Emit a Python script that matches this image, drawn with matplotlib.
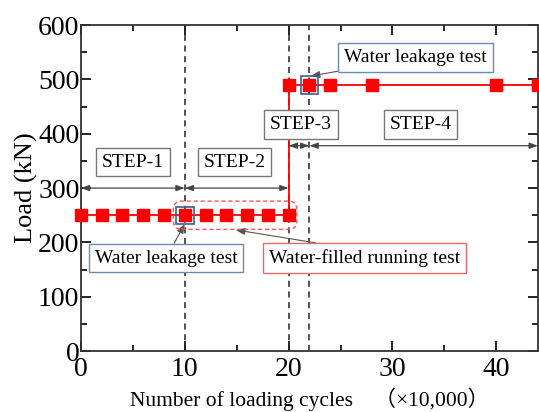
import matplotlib
matplotlib.use('Agg')
import matplotlib.pyplot as plt
from matplotlib.patches import FancyBboxPatch, Rectangle

plt.rcParams['font.family'] = ['Liberation Serif', 'Noto Sans CJK JP']

# Datos de carga
ciclos_1 = [0, 2, 4, 6, 8, 10, 12, 14, 16, 18, 20]
carga_1 = [250, 250, 250, 250, 250, 250, 250, 250, 250, 250, 250]
ciclos_2 = [20, 22, 24, 28, 40, 44]
carga_2 = [490, 490, 490, 490, 490, 490]
limites = [10, 20, 22]

fig = plt.figure(figsize=(5.39, 4.12), dpi=100)
ax = fig.add_axes([0.150, 0.148, 0.848, 0.791])

ax.plot(ciclos_1 + ciclos_2, carga_1 + carga_2, color='red', lw=1.3,
        marker='s', ms=9, mec='red', mfc='red', zorder=3, clip_on=False)

for xv in limites:
    ax.axvline(xv, color='#222222', ls=(0, (4, 3)), lw=1.1, zorder=2)

ax.set_xlim(0, 44)
ax.set_ylim(0, 600)
ax.set_xticks([0, 10, 20, 30, 40])
ax.set_xticks([5, 15, 25, 35], minor=True)
ax.set_yticks(range(0, 601, 100))
ax.set_yticks(range(50, 600, 100), minor=True)
ax.tick_params(which='both', direction='in', top=True, right=True, width=1.2)
ax.tick_params(which='major', length=7, labelsize=20)
ax.tick_params(axis='x', which='major', pad=4)
ax.tick_params(axis='y', which='major', pad=1)
ax.tick_params(which='minor', length=4)
for s in ax.spines.values():
    s.set_linewidth(1.3)
    s.set_color('#333333')

ax.set_xlabel('Number of loading cycles\u3000（×10,000）', fontsize=15.5, labelpad=4)
ax.set_ylabel('Load (kN)', fontsize=19, labelpad=0)

# Flechas de los pasos
flecha = dict(arrowstyle='<|-|>,head_length=0.5,head_width=0.18', color='#444444', lw=0.9,
              shrinkA=0, shrinkB=0)
ax.annotate('', xy=(0, 300), xytext=(10, 300), arrowprops=flecha)
ax.annotate('', xy=(10, 300), xytext=(20, 300), arrowprops=flecha)
ax.annotate('', xy=(20, 378), xytext=(22, 378), arrowprops=flecha)
ax.annotate('', xy=(22, 378), xytext=(44, 378), arrowprops=flecha)

caja_gris = dict(boxstyle='square,pad=0.3', fc='white', ec='#777777', lw=1)
ax.text(5, 348, 'STEP-1', ha='center', va='center', fontsize=14, bbox=caja_gris)
ax.text(14.8, 348, 'STEP-2', ha='center', va='center', fontsize=14, bbox=caja_gris)
ax.text(21.2, 417, 'STEP-3', ha='center', va='center', fontsize=14, bbox=caja_gris, zorder=4)
ax.text(32.7, 417, 'STEP-4', ha='center', va='center', fontsize=14, bbox=caja_gris)

# Ensayos de fuga de agua
azul = '#3d5f8f'
for (xv, yv) in [(10, 250), (22, 490)]:
    ax.add_patch(Rectangle((xv - 0.85, yv - 16), 1.7, 32, fill=False, ec=azul, lw=1.2, zorder=4))

flecha2 = dict(arrowstyle='-|>,head_length=0.4,head_width=0.15', color='#555555', lw=0.8,
               shrinkA=0, shrinkB=0)
caja_azul = dict(boxstyle='square,pad=0.3', fc='white', ec='#6a8ab5', lw=1)
ax.annotate('Water leakage test', xy=(22.1, 506), xytext=(32.2, 541), fontsize=14,
            ha='center', va='center', bbox=caja_azul, arrowprops=flecha2)
ax.annotate('Water leakage test', xy=(10, 234), xytext=(8.2, 171), fontsize=14,
            ha='center', va='center', bbox=caja_azul, arrowprops=flecha2)

# Ensayo con agua
ax.add_patch(FancyBboxPatch((8.9, 224), 11.9, 52, boxstyle='round,pad=0,rounding_size=0.8',
                            fill=False, ec='#ff5555', ls=(0, (3, 2)), lw=1.0,
                            mutation_aspect=20, zorder=4))
caja_roja = dict(boxstyle='square,pad=0.3', fc='white', ec='#ee6666', lw=1)
ax.annotate('Water-filled running test', xy=(14.9, 223), xytext=(27.3, 171), fontsize=14,
            ha='center', va='center', bbox=caja_roja,
            arrowprops=dict(arrowstyle='-|>,head_length=0.4,head_width=0.15', color='#555555',
                            lw=0.8, shrinkA=0, shrinkB=0, relpos=(0.45, 1.0)))

fig.savefig('out.png', dpi=100)
